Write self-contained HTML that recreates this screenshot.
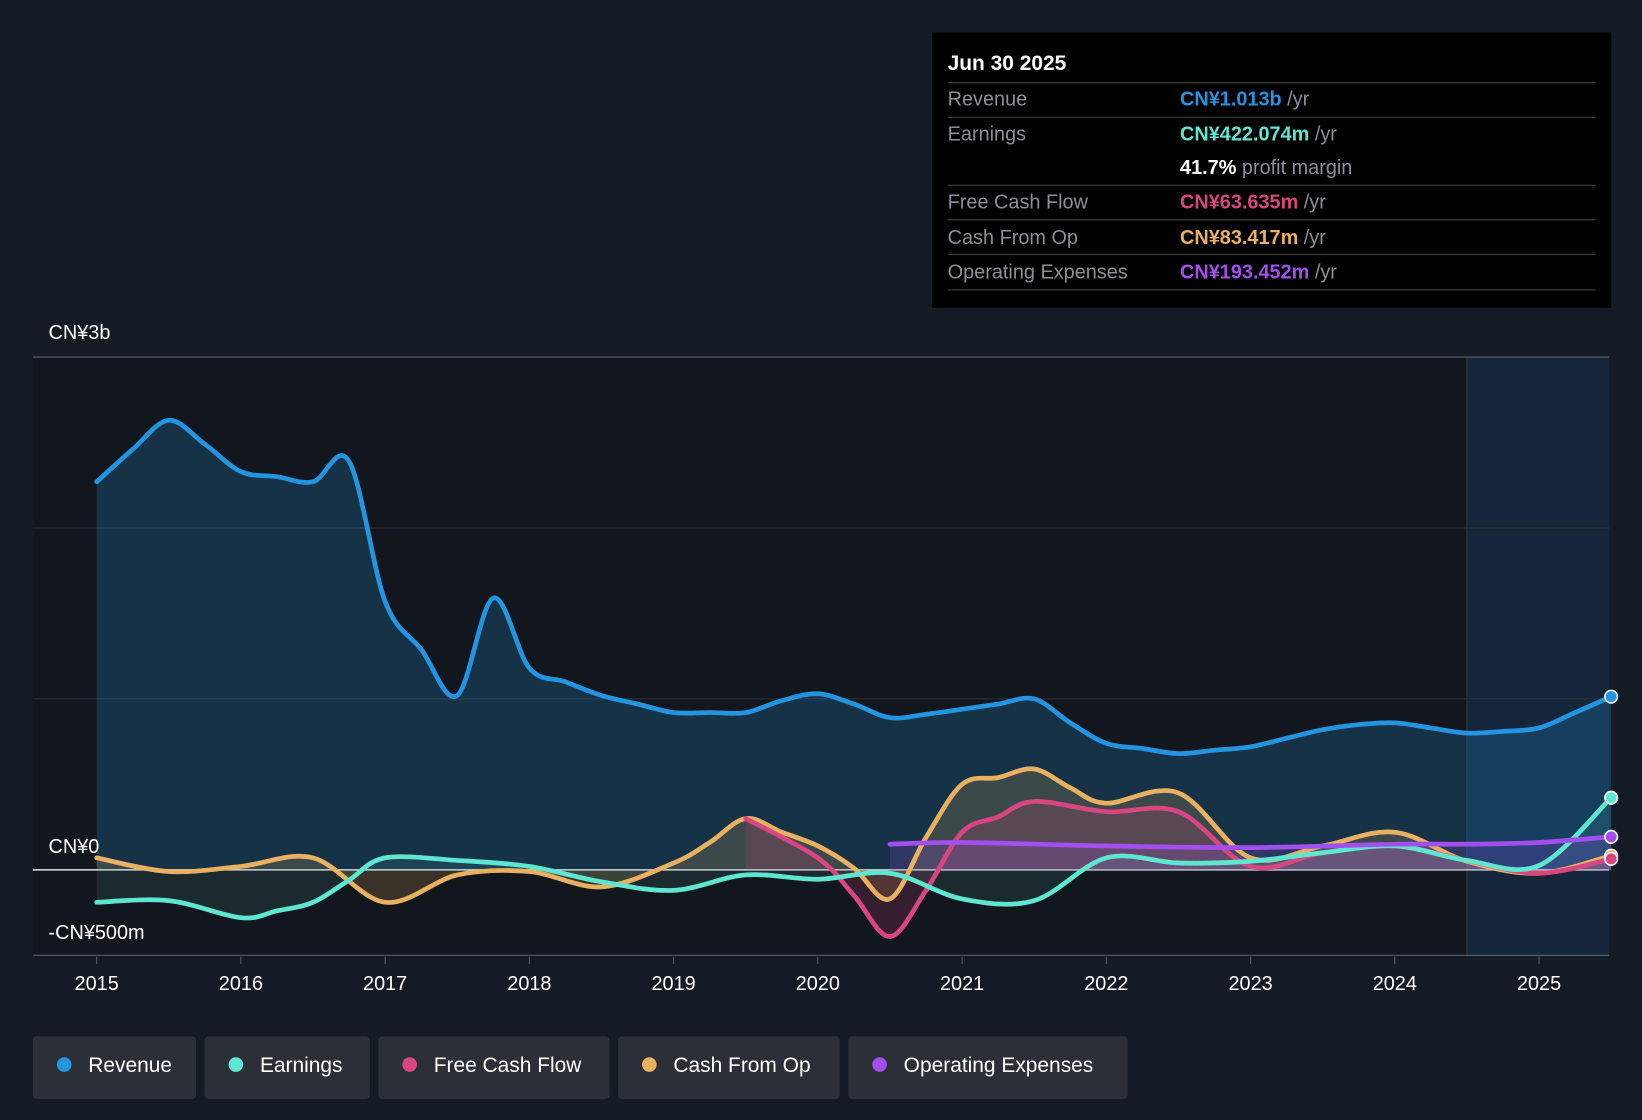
<!DOCTYPE html>
<html><head><meta charset="utf-8"><style>
html,body{margin:0;padding:0;background:#151b24;}
svg{display:block;font-family:"Liberation Sans",Arial,sans-serif;}
</style></head><body>
<svg id="chart" width="1642" height="1120" viewBox="0 0 1568 1070" xmlns="http://www.w3.org/2000/svg">
<rect width="1568" height="1070" fill="#151b24"/>
<rect x="31" y="341" width="1506" height="573" fill="#12161d"/>
<rect x="1401" y="341" width="136" height="573" fill="#15263a"/>
<line x1="1401" y1="341" x2="1401" y2="914" stroke="#2a3a4c" stroke-width="1"/>
<g id="grid"></g>
<g id="areas"></g>
<g id="lines"></g>
<g id="dots"></g>
<g id="xaxis"></g>
<text x="46" y="324" fill="#fff" font-size="19">CN¥3b</text>
<text x="46" y="815" fill="#fff" font-size="19">CN¥0</text>
<text x="46" y="897" fill="#fff" font-size="19">-CN¥500m</text>

<g>
<rect x="890" y="31" width="649" height="263" fill="#000"/>
<text x="905" y="67" fill="#fff" font-size="20" font-weight="bold">Jun 30 2025</text>
<line x1="905" y1="79" x2="1524" y2="79" stroke="#444"/>
<text x="905" y="101" fill="#8a8f98" font-size="19">Revenue</text>
<text x="1127" y="101" font-size="19"><tspan fill="#2394e0" font-weight="bold">CN¥1.013b</tspan><tspan fill="#8a8f98"> /yr</tspan></text>
<line x1="905" y1="112" x2="1524" y2="112" stroke="#444"/>
<text x="905" y="134" fill="#8a8f98" font-size="19">Earnings</text>
<text x="1127" y="134" font-size="19"><tspan fill="#5ee6d0" font-weight="bold">CN¥422.074m</tspan><tspan fill="#8a8f98"> /yr</tspan></text>
<text x="1127" y="166" font-size="19"><tspan fill="#fff" font-weight="bold">41.7%</tspan><tspan fill="#8a8f98"> profit margin</tspan></text>
<line x1="905" y1="177" x2="1524" y2="177" stroke="#444"/>
<text x="905" y="199" fill="#8a8f98" font-size="19">Free Cash Flow</text>
<text x="1127" y="199" font-size="19"><tspan fill="#d9467f" font-weight="bold">CN¥63.635m</tspan><tspan fill="#8a8f98"> /yr</tspan></text>
<line x1="905" y1="210" x2="1524" y2="210" stroke="#444"/>
<text x="905" y="233" fill="#8a8f98" font-size="19">Cash From Op</text>
<text x="1127" y="233" font-size="19"><tspan fill="#e8b060" font-weight="bold">CN¥83.417m</tspan><tspan fill="#8a8f98"> /yr</tspan></text>
<line x1="905" y1="243" x2="1524" y2="243" stroke="#444"/>
<text x="905" y="266" fill="#8a8f98" font-size="19">Operating Expenses</text>
<text x="1127" y="266" font-size="19"><tspan fill="#a34ff0" font-weight="bold">CN¥193.452m</tspan><tspan fill="#8a8f98"> /yr</tspan></text>
<line x1="905" y1="277" x2="1524" y2="277" stroke="#444"/>
</g>

<g>
<g><rect x="31" y="990" width="156" height="60" rx="4" fill="#2a2f38"/><circle cx="61" cy="1017" r="7" fill="#2394e0"/><text x="84" y="1024" fill="#fff" font-size="20">Revenue</text></g>
<g><rect x="195" y="990" width="158" height="60" rx="4" fill="#2a2f38"/><circle cx="225" cy="1017" r="7" fill="#5ee6d0"/><text x="248" y="1024" fill="#fff" font-size="20">Earnings</text></g>
<g><rect x="361" y="990" width="221" height="60" rx="4" fill="#2a2f38"/><circle cx="391" cy="1017" r="7" fill="#d9467f"/><text x="414" y="1024" fill="#fff" font-size="20">Free Cash Flow</text></g>
<g><rect x="590" y="990" width="212" height="60" rx="4" fill="#2a2f38"/><circle cx="620" cy="1017" r="7" fill="#e8b060"/><text x="643" y="1024" fill="#fff" font-size="20">Cash From Op</text></g>
<g><rect x="810" y="990" width="267" height="60" rx="4" fill="#2a2f38"/><circle cx="840" cy="1017" r="7" fill="#a34ff0"/><text x="863" y="1024" fill="#fff" font-size="20">Operating Expenses</text></g>
</g>
</svg>
<script>
const revT=[2015,2015.25,2015.5,2015.75,2016,2016.25,2016.5,2016.75,2017,2017.25,2017.5,2017.75,2018,2018.25,2018.5,2018.75,2019,2019.25,2019.5,2019.75,2020,2020.25,2020.5,2020.75,2021,2021.25,2021.5,2021.75,2022,2022.25,2022.5,2022.75,2023,2023.25,2023.5,2023.75,2024,2024.25,2024.5,2024.75,2025,2025.25,2025.5];
const revV=[2.27,2.46,2.63,2.49,2.33,2.30,2.27,2.39,1.57,1.29,1.02,1.59,1.18,1.10,1.02,0.97,0.92,0.92,0.92,0.99,1.03,0.97,0.89,0.91,0.94,0.97,1.00,0.86,0.74,0.71,0.68,0.70,0.72,0.77,0.82,0.85,0.86,0.83,0.80,0.81,0.83,0.92,1.013];
const earnT=[2015,2015.5,2016,2016.25,2016.5,2016.75,2017,2017.5,2018,2018.5,2019,2019.5,2020,2020.5,2021,2021.5,2022,2022.5,2023,2023.5,2024,2024.5,2025,2025.5];
const earnV=[-0.19,-0.18,-0.28,-0.24,-0.19,-0.06,0.07,0.055,0.02,-0.07,-0.12,-0.03,-0.055,-0.02,-0.17,-0.18,0.07,0.04,0.05,0.10,0.14,0.055,0.025,0.422];
const fcfT=[2019.5,2020,2020.25,2020.5,2020.75,2021,2021.25,2021.5,2022,2022.5,2023,2023.5,2024,2024.5,2025,2025.5];
const fcfV=[0.30,0.07,-0.15,-0.39,-0.12,0.22,0.31,0.40,0.34,0.34,0.02,0.10,0.14,0.055,-0.02,0.064];
const cfoT=[2015,2015.5,2016,2016.5,2017,2017.5,2018,2018.5,2019,2019.25,2019.5,2019.75,2020,2020.25,2020.5,2020.75,2021,2021.25,2021.5,2021.75,2022,2022.5,2023,2023.5,2024,2024.5,2025,2025.5];
const cfoV=[0.07,-0.01,0.02,0.07,-0.19,-0.03,-0.01,-0.10,0.04,0.16,0.30,0.22,0.14,0.01,-0.17,0.19,0.50,0.54,0.59,0.48,0.39,0.45,0.07,0.14,0.22,0.05,-0.02,0.083];
const opxT=[2020.5,2021,2022,2023,2024,2024.5,2025,2025.5];
const opxV=[0.15,0.16,0.14,0.13,0.15,0.15,0.16,0.193];
const xTicks=[2015,2016,2017,2018,2019,2020,2021,2022,2023,2024,2025];
const yGrid=[3,2,1,0,-0.5];

const NS="http://www.w3.org/2000/svg";
const X=t=>92+(t-2015)*137.8;
const Y=v=>831-v*163.3;
function mk(tag,attrs,parent){const e=document.createElementNS(NS,tag);for(const k in attrs)e.setAttribute(k,attrs[k]);document.getElementById(parent).appendChild(e);return e;}
function smooth(pts){let d=`M${pts[0][0]},${pts[0][1]}`;for(let i=0;i<pts.length-1;i++){const p0=pts[i-1]||pts[i],p1=pts[i],p2=pts[i+1],p3=pts[i+2]||p2;const c1x=p1[0]+(p2[0]-p0[0])/6,c1y=p1[1]+(p2[1]-p0[1])/6,c2x=p2[0]-(p3[0]-p1[0])/6,c2y=p2[1]-(p3[1]-p1[1])/6;d+=`C${c1x},${c1y} ${c2x},${c2y} ${p2[0]},${p2[1]}`;}return d;}

yGrid.forEach(v=>{
 const l=mk('line',{x1:31,x2:1537,y1:Y(v),y2:Y(v),stroke:v===0?'#d0d4da':(v===-0.5||v===3?'#5a616b':'#2b333e'),'stroke-width':v===0?1.5:1},'grid');
 
 
});
xTicks.forEach(t=>{
 const tk=mk('line',{x1:X(t),x2:X(t),y1:914,y2:921,stroke:'#5a616b'},'xaxis');
 
 
 const tx=mk('text',{x:X(t),y:946,fill:'#fff','font-size':19,'text-anchor':'middle'},'xaxis');
 tx.textContent=t;
 
 
});

const series=[
 ['revenue',revT,revV,'#2394e0','rgba(35,148,224,0.22)'],
 ['cash-from-op',cfoT,cfoV,'#e8b060','rgba(232,176,96,0.18)'],
 ['free-cash-flow',fcfT,fcfV,'#d9467f','rgba(217,70,127,0.18)'],
 ['earnings',earnT,earnV,'#5ee6d0','rgba(94,230,208,0.10)'],
 ['operating-expenses',opxT,opxV,'#a34ff0','rgba(163,79,240,0.18)']
];
series.forEach(([name,ts,vs,col,fill])=>{
 const pts=ts.map((t,i)=>[X(t),Y(vs[i])]);
 const d=smooth(pts);
 const a=mk('path',{d:d+`L${pts[pts.length-1][0]},${Y(0)}L${pts[0][0]},${Y(0)}Z`,fill:fill},'areas');
 
 
 const l=mk('path',{d:d,fill:'none',stroke:col,'stroke-width':4.5,'stroke-linejoin':'round','stroke-linecap':'round'},'lines');
 
 
 const last=pts[pts.length-1];
 const c=mk('circle',{cx:last[0],cy:last[1],r:6,fill:col,stroke:'#fff','stroke-width':1.5},'dots');
 
 
});
</script>
</body></html>
